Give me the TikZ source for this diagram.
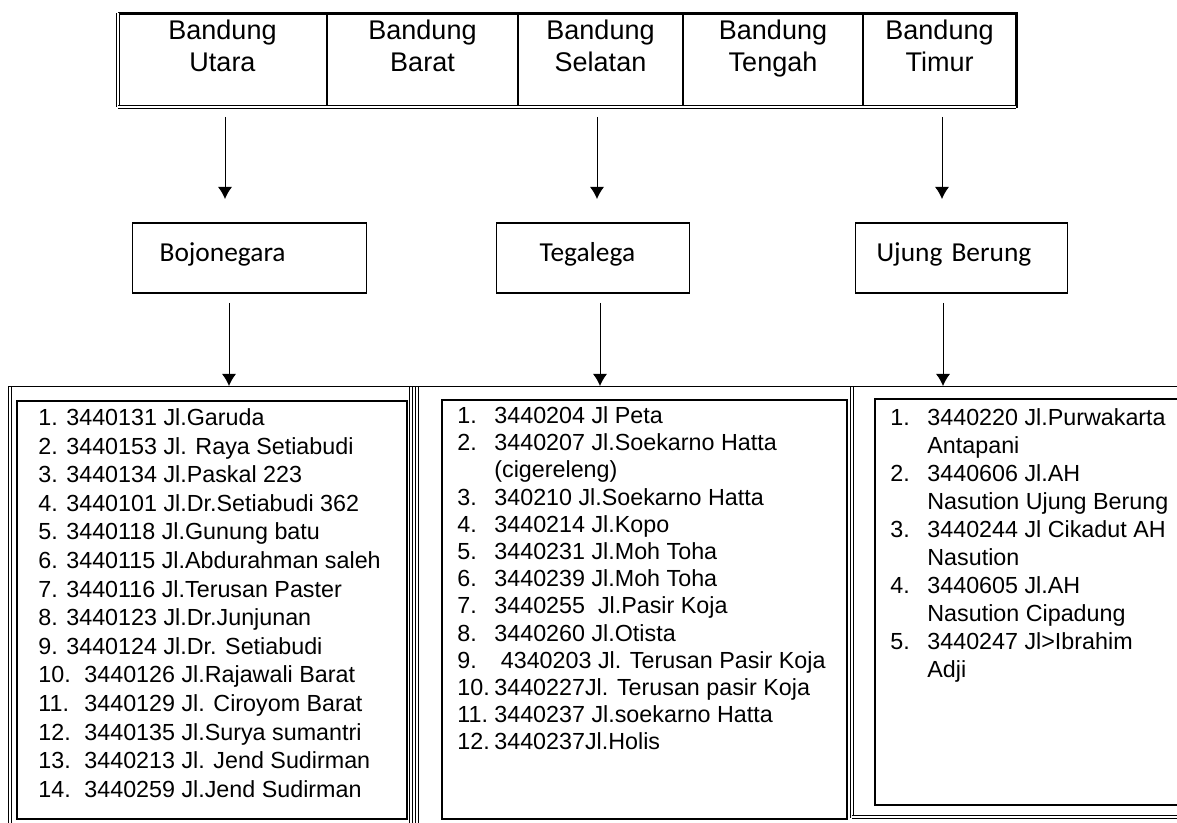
\documentclass[tikz,border=0pt]{standalone}
\usepackage{fontspec}
\setmainfont{Liberation Sans}
\newfontfamily\calibri{Carlito}
\usetikzlibrary{arrows.meta}
\begin{document}
\begin{tikzpicture}[x=0.5pt,y=-0.5pt]
	\tikzstyle{Head} = [align=center, inner sep=0pt, anchor=north, font=\fontsize{13.5}{16}\selectfont]
	\tikzstyle{Box} = [draw, line width=0.6pt, anchor=west, minimum height=35pt, inner ysep=0pt, align=left, text height=9pt, text depth=5pt, font=\calibri\fontsize{13.7}{16}\selectfont]
	\tikzstyle{List} = [align=left, inner sep=0pt, anchor=north west, font=\fontsize{11.65}{14.3}\selectfont]
	\tikzstyle{Arrow} = [-{Latex[length=6pt,width=7pt]}, line width=0.5pt]
	\tikzstyle{Double} = [double, double distance=1pt, line width=0.5pt]
	\useasboundingbox (0,0) rectangle (1177,823);
	% header table
	\draw [line width=1.5pt] (118,13.5) -- (1016,13.5) -- (1016,108);
	\draw [line width=0.9pt] (327,13) -- (327,105) (518,13) -- (518,105) (683,13) -- (683,105) (863,13) -- (863,105);
	\draw [Double] (118,13) -- (118,107);
	\draw [Double] (118,107) -- (1016,107);
	\node (utara) at (222.5,17) [Head] {\rule{0pt}{11pt}Bandung\\Utara};
	\node (barat) at (422.5,17) [Head] {\rule{0pt}{11pt}Bandung\\Barat};
	\node (selatan) at (600.5,17) [Head] {\rule{0pt}{11pt}Bandung\\Selatan};
	\node (tengah) at (773,17) [Head] {\rule{0pt}{11pt}Bandung\\Tengah};
	\node (timur) at (939.5,17) [Head] {\rule{0pt}{11pt}Bandung\\Timur};
	\coordinate (a1) at (225,117);
	\coordinate (b1) at (225,199);
	\coordinate (a2) at (597,117);
	\coordinate (b2) at (597,199);
	\coordinate (a3) at (942,117);
	\coordinate (b3) at (942,199);
	\draw [Arrow] (a1) to (b1);
	\draw [Arrow] (a2) to (b2);
	\draw [Arrow] (a3) to (b3);
	% kantor
	\node (bojonegara) at (132,258) [Box, text width=90pt, inner xsep=13.5pt] {Bojonegara};
	\node (tegalega) at (496,258) [Box, text width=53.5pt, inner xsep=21.5pt] {Tegalega};
	\node (ujungberung) at (855,258) [Box, text width=85pt, inner xsep=10.5pt] {Ujung Berung};
	\coordinate (c1) at (229,303);
	\coordinate (d1) at (229,386);
	\coordinate (c2) at (600,303);
	\coordinate (d2) at (600,386);
	\coordinate (c3) at (943,303);
	\coordinate (d3) at (943,386);
	\draw [Arrow] (c1) to (d1);
	\draw [Arrow] (c2) to (d2);
	\draw [Arrow] (c3) to (d3);
	% lower table
	\draw [line width=0.5pt] (8,387) -- (1177,387);
	\draw [Double] (10,387) -- (10,830);
	\draw [Double] (411,387) -- (411,830);
	\draw [Double] (417,387) -- (417,830);
	\draw [Double] (851.5,387) -- (851.5,818);
	\draw [Double] (851.5,817) -- (1177,817);
	\draw [line width=0.75pt] (17,401) rectangle (407,819);
	\draw [line width=0.75pt] (442,400) rectangle (847,819);
	\draw [line width=0.75pt] (875,399) rectangle (1190,805);
	\node (listutara) at (38,405) [List] {\rule{0pt}{10pt}\makebox[14pt][l]{1.}3440131 Jl.Garuda\\
		\makebox[14pt][l]{2.}3440153 Jl. Raya Setiabudi\\
		\makebox[14pt][l]{3.}3440134 Jl.Paskal 223\\
		\makebox[14pt][l]{4.}3440101 Jl.Dr.Setiabudi 362\\
		\makebox[14pt][l]{5.}3440118 Jl.Gunung batu\\
		\makebox[14pt][l]{6.}3440115 Jl.Abdurahman saleh\\
		\makebox[14pt][l]{7.}3440116 Jl.Terusan Paster\\
		\makebox[14pt][l]{8.}3440123 Jl.Dr.Junjunan\\
		\makebox[14pt][l]{9.}3440124 Jl.Dr. Setiabudi\\
		\makebox[23pt][l]{10.}3440126 Jl.Rajawali Barat\\
		\makebox[23pt][l]{11.}3440129 Jl. Ciroyom Barat\\
		\makebox[23pt][l]{12.}3440135 Jl.Surya sumantri\\
		\makebox[23pt][l]{13.}3440213 Jl. Jend Sudirman\\
		\makebox[23pt][l]{14.}3440259 Jl.Jend Sudirman};
	\node (listselatan) at (457,403) [List, font=\fontsize{11.65}{13.6}\selectfont] {\rule{0pt}{10pt}\makebox[18.5pt][l]{1.}3440204 Jl Peta\\
		\makebox[18.5pt][l]{2.}3440207 Jl.Soekarno Hatta\\
		\hspace*{18.5pt}(cigereleng)\\
		\makebox[18.5pt][l]{3.}340210 Jl.Soekarno Hatta\\
		\makebox[18.5pt][l]{4.}3440214 Jl.Kopo\\
		\makebox[18.5pt][l]{5.}3440231 Jl.Moh Toha\\
		\makebox[18.5pt][l]{6.}3440239 Jl.Moh Toha\\
		\makebox[18.5pt][l]{7.}3440255\ \ Jl.Pasir Koja\\
		\makebox[18.5pt][l]{8.}3440260 Jl.Otista\\
		\makebox[18.5pt][l]{9.}\ 4340203 Jl. Terusan Pasir Koja\\
		\makebox[18.5pt][l]{10.}3440227Jl. Terusan pasir Koja\\
		\makebox[18.5pt][l]{11.}3440237 Jl.soekarno Hatta\\
		\makebox[18.5pt][l]{12.}3440237Jl.Holis};
	\node (listtimur) at (890,405) [List, font=\fontsize{11.65}{14}\selectfont] {\rule{0pt}{10pt}\makebox[18.5pt][l]{1.}3440220 Jl.Purwakarta\\
		\hspace*{18.5pt}Antapani\\
		\makebox[18.5pt][l]{2.}3440606 Jl.AH\\
		\hspace*{18.5pt}Nasution Ujung Berung\\
		\makebox[18.5pt][l]{3.}3440244 Jl Cikadut AH\\
		\hspace*{18.5pt}Nasution\\
		\makebox[18.5pt][l]{4.}3440605 Jl.AH\\
		\hspace*{18.5pt}Nasution Cipadung\\
		\makebox[18.5pt][l]{5.}3440247 Jl>Ibrahim\\
		\hspace*{18.5pt}Adji};
\end{tikzpicture}
\end{document}
